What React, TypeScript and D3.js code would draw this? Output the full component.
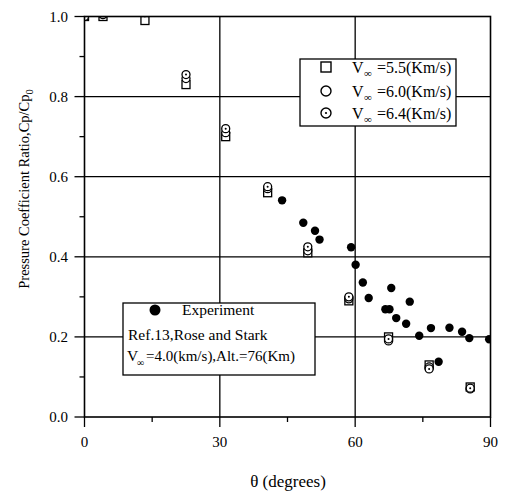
import React, { useEffect, useRef } from 'react';
import * as d3 from 'd3';

// computed points (three free-stream velocities share the same stations)
const theta = [0, 4.1, 13.4, 22.5, 31.3, 40.6, 49.5, 58.6, 67.4, 76.4, 85.5];
const v55 = [1.0, 1.0, 0.99, 0.83, 0.70, 0.56, 0.41, 0.29, 0.20, 0.13, 0.075];
const v60 = [1.0, 1.005, 1.01, 0.845, 0.71, 0.57, 0.415, 0.295, 0.19, 0.125, 0.07];
const v64 = [1.0, 1.005, 1.01, 0.855, 0.72, 0.575, 0.425, 0.30, 0.195, 0.12, 0.072];

// experiment, Ref.13 Rose and Stark
const expTheta = [43.8, 48.5, 51.1, 52.1, 59.1, 60.1, 61.7, 63.0, 66.7, 67.6, 68.0, 69.1, 71.3, 72.1, 74.2, 76.8, 78.5, 80.9, 83.7, 85.3, 89.7];
const expCp = [0.541, 0.485, 0.465, 0.443, 0.424, 0.38, 0.336, 0.297, 0.269, 0.269, 0.322, 0.247, 0.233, 0.288, 0.203, 0.222, 0.138, 0.223, 0.213, 0.197, 0.194];

const xTicks = [0, 30, 60, 90];
const xMinor = [15, 45, 75];
const yTicks = [0, 0.2, 0.4, 0.6, 0.8, 1.0];
const yMinor = [0.1, 0.3, 0.5, 0.7, 0.9];

const FONT = '"Liberation Serif", "Times New Roman", serif';

const App = () => {
  const svgRef = useRef<SVGSVGElement>(null);

  useEffect(() => {
    const svg = d3.select(svgRef.current);
    svg.selectAll('*').remove();

    const x = d3.scaleLinear().domain([0, 90]).range([84.5, 490.5]);
    const y = d3.scaleLinear().domain([0, 1]).range([417, 16.5]);
    const [x0, x1] = x.range();
    const [y0, y1] = y.range();

    svg.append('defs').append('clipPath').attr('id', 'plotclip')
      .append('rect').attr('x', x0).attr('y', y1).attr('width', x1 - x0).attr('height', y0 - y1);

    // grid
    const grid = svg.append('g').attr('stroke', '#000').attr('stroke-width', 1.3);
    grid.selectAll('.gx').data([30, 60]).enter().append('line')
      .attr('x1', d => x(d)).attr('x2', d => x(d)).attr('y1', y0).attr('y2', y1);
    grid.selectAll('.gy').data([0.2, 0.4, 0.6, 0.8]).enter().append('line')
      .attr('x1', x0).attr('x2', x1).attr('y1', d => y(d)).attr('y2', d => y(d));

    // ticks
    const tk = svg.append('g').attr('stroke', '#000').attr('stroke-width', 1.3);
    tk.selectAll('.tx').data(xTicks).enter().append('line')
      .attr('x1', d => x(d)).attr('x2', d => x(d)).attr('y1', y0).attr('y2', y0 + 10);
    tk.selectAll('.tmx').data(xMinor).enter().append('line')
      .attr('x1', d => x(d)).attr('x2', d => x(d)).attr('y1', y0).attr('y2', y0 + 5);
    tk.selectAll('.ty').data(yTicks).enter().append('line')
      .attr('x1', x0 - 10).attr('x2', x0).attr('y1', d => y(d)).attr('y2', d => y(d));
    tk.selectAll('.tmy').data(yMinor).enter().append('line')
      .attr('x1', x0 - 5).attr('x2', x0).attr('y1', d => y(d)).attr('y2', d => y(d));

    // tick labels
    svg.append('g').selectAll('text').data(xTicks).enter().append('text')
      .attr('x', d => x(d)).attr('y', 447).attr('text-anchor', 'middle')
      .attr('font-family', FONT).attr('font-size', 15).text(d => d);
    svg.append('g').selectAll('text').data(yTicks).enter().append('text')
      .attr('x', 68).attr('y', d => y(d) + 5).attr('text-anchor', 'end')
      .attr('font-family', FONT).attr('font-size', 15).text(d => d.toFixed(1));

    // markers
    const pts = svg.append('g').attr('clip-path', 'url(#plotclip)');
    pts.selectAll('.sq').data(theta).enter().append('rect')
      .attr('x', d => x(d) - 4).attr('y', (d, i) => y(v55[i]) - 4)
      .attr('width', 8).attr('height', 8)
      .attr('fill', '#fff').attr('stroke', '#000').attr('stroke-width', 1.3);
    pts.selectAll('.oc').data(theta).enter().append('circle')
      .attr('cx', d => x(d)).attr('cy', (d, i) => y(v60[i])).attr('r', 4)
      .attr('fill', '#fff').attr('stroke', '#000').attr('stroke-width', 1.3);
    pts.selectAll('.dc').data(theta).enter().append('circle')
      .attr('cx', d => x(d)).attr('cy', (d, i) => y(v64[i])).attr('r', 4)
      .attr('fill', '#fff').attr('stroke', '#000').attr('stroke-width', 1.3);
    pts.selectAll('.dd').data(theta).enter().append('circle')
      .attr('cx', d => x(d)).attr('cy', (d, i) => y(v64[i])).attr('r', 1)
      .attr('fill', '#000');
    pts.selectAll('.ex').data(expTheta).enter().append('circle')
      .attr('cx', d => x(d)).attr('cy', (d, i) => y(expCp[i])).attr('r', 4.2)
      .attr('fill', '#000');

    // frame
    svg.append('rect').attr('x', x0).attr('y', y1).attr('width', x1 - x0).attr('height', y0 - y1)
      .attr('fill', 'none').attr('stroke', '#000').attr('stroke-width', 1.6);

    // legend (computed)
    const lg = svg.append('g').attr('font-family', FONT);
    lg.append('rect').attr('x', 300).attr('y', 59).attr('width', 156).attr('height', 67)
      .attr('fill', '#fff').attr('stroke', '#000').attr('stroke-width', 1.3);
    const rows = [
      { y: 67, label: '=5.5(Km/s)', kind: 'sq' },
      { y: 91, label: '=6.0(Km/s)', kind: 'oc' },
      { y: 113, label: '=6.4(Km/s)', kind: 'dc' },
    ];
    rows.forEach(r => {
      if (r.kind === 'sq') {
        lg.append('rect').attr('x', 321).attr('y', r.y - 5).attr('width', 10).attr('height', 10)
          .attr('fill', '#fff').attr('stroke', '#000').attr('stroke-width', 1.4);
      } else {
        lg.append('circle').attr('cx', 326).attr('cy', r.y).attr('r', 5)
          .attr('fill', '#fff').attr('stroke', '#000').attr('stroke-width', 1.4);
        if (r.kind === 'dc') lg.append('circle').attr('cx', 326).attr('cy', r.y).attr('r', 1.1).attr('fill', '#000');
      }
      lg.append('text').attr('x', 352).attr('y', r.y + 6).attr('font-size', 16).text('V');
      lg.append('text').attr('x', 364).attr('y', r.y + 10).attr('font-size', 11).text('∞');
      lg.append('text').attr('x', 377).attr('y', r.y + 6).attr('font-size', 16).text(r.label);
    });

    // legend (experiment)
    const le = svg.append('g').attr('font-family', FONT).attr('font-size', 15.5);
    le.append('rect').attr('x', 123).attr('y', 303).attr('width', 192).attr('height', 72)
      .attr('fill', '#fff').attr('stroke', '#000').attr('stroke-width', 1.3);
    le.append('circle').attr('cx', 155).attr('cy', 310).attr('r', 5.5).attr('fill', '#000');
    le.append('text').attr('x', 182).attr('y', 315).text('Experiment');
    le.append('text').attr('x', 128).attr('y', 340).text('Ref.13,Rose and Stark');
    le.append('text').attr('x', 127).attr('y', 361).text('V');
    le.append('text').attr('x', 137).attr('y', 366).attr('font-size', 10).text('∞');
    le.append('text').attr('x', 146).attr('y', 361).attr('font-size', 15).text('=4.0(km/s),Alt.=76(Km)');

    // axis titles
    svg.append('text').attr('x', 288).attr('y', 487).attr('text-anchor', 'middle')
      .attr('font-family', FONT).attr('font-size', 17).text('θ (degrees)');

    const yt = svg.append('text').attr('transform', 'translate(29,189) rotate(-90)')
      .attr('text-anchor', 'middle').attr('font-family', FONT).attr('font-size', 14.5);
    yt.append('tspan').text('Pressure Coefficient Ratio,Cp/Cp');
    yt.append('tspan').attr('dy', 4).attr('font-size', 10.5).text('0');
  }, []);

  return (
    <svg ref={svgRef} width={506} height={492}
      style={{ position: 'absolute', left: 0, top: 0, background: '#fff' }} />
  );
};

export default App;
